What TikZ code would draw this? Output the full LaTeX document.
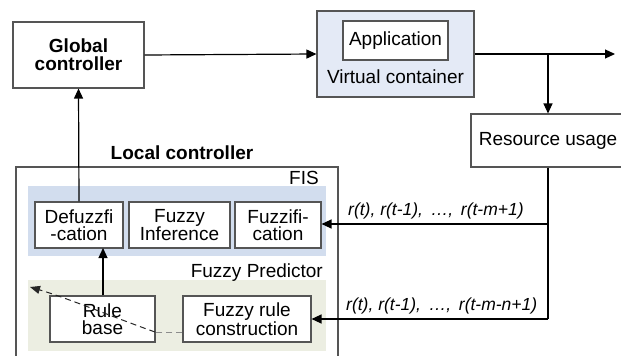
\documentclass[tikz,border=0pt]{standalone}
\usepackage{fontspec}
\setmainfont{Liberation Sans}
\usetikzlibrary{arrows.meta}
\definecolor{vcfill}{HTML}{E4EAF6}
\definecolor{fisfill}{HTML}{D2DDEE}
\definecolor{fpfill}{HTML}{ECEEE2}
\definecolor{bord}{HTML}{555555}
\begin{document}
\begin{tikzpicture}[x=1pt,y=-1pt,
  every node/.style={font=\fontsize{19}{17.5}\selectfont, inner sep=0pt, align=center},
  box/.style={draw=bord, line width=1.1pt, fill=white},
  conn/.style={line width=1.2pt, draw=black, -{Triangle[length=10pt,width=9pt]}},
  plain/.style={line width=1.2pt, draw=black},
  fbdash/.style={line width=1pt, dash pattern=on 6pt off 4pt},
  lbl/.style={font=\fontsize{17.5}{19}\selectfont\itshape}]
\useasboundingbox (0,0) rectangle (621,356);
\begin{scope}
\clip (0,0) rectangle (621,356);
% local controller frame
\draw[draw=bord, line width=1.1pt] (16,167) rectangle (338,370);
% resource usage (cut at the right edge)
\node[box, minimum width=154pt, minimum height=53pt] (ru) at (548,140.5) {};
\end{scope}
\node at (548,140.5) {Resource usage};
% global controller
\node[box, minimum width=131pt, minimum height=66pt, font=\fontsize{19}{18}\selectfont\bfseries] (gc) at (78.5,55) {Global\\controller};
% virtual container
\node[box, fill=vcfill, minimum width=157pt, minimum height=86pt] (vc) at (395.5,54) {};
\node[box, minimum width=105pt, minimum height=39pt] (app) at (395.5,40.5) {Application};
\node (vct) at (395.5,77) {Virtual container};
% local controller label
\node[font=\fontsize{19}{18}\selectfont\bfseries] (lct) at (182,153) {Local controller};
% FIS
\fill[fisfill] (28,186) rectangle (326,256);
\node[anchor=east] (fist) at (319,178) {FIS};
\node[box, minimum width=88pt, minimum height=46pt] (dfz) at (79,225) {Defuzzfi\\-cation};
\node[box, minimum width=101pt, minimum height=46pt] (inf) at (179.5,225) {Fuzzy\\Inference};
\node[box, minimum width=86pt, minimum height=46pt] (fzz) at (278,225) {Fuzzifi-\\cation};
% Fuzzy predictor
\fill[fpfill] (28,280) rectangle (326,351);
\node[anchor=east] (fpt) at (323,273) {Fuzzy Predictor};
\node[box, minimum width=105pt, minimum height=46pt] (rb) at (102.5,319) {Rule\\base};
\node[box, minimum width=128pt, minimum height=46pt] (frc) at (247,319) {Fuzzy rule\\construction};
% connectors
\draw[conn] (gc.east) -- (vc.west);
\coordinate (outR) at (615,54);
\coordinate (br) at (548,54);
\draw[conn] (vc.east) -- (outR);
\draw[conn] (br) -- (ru.north);
\coordinate (c1) at (548,224);
\coordinate (c2) at (548,319);
\draw[plain] (ru.south) -- (c2);
\draw[conn] (c1) -- (fzz.east |- c1);
\draw[conn] (c2) -- (frc.east);
\draw[conn] (rb.north -| 103,0) -- (103,248);
\draw[conn] (dfz.north) -- (gc.south);
% dashed feedback
\coordinate (d1) at (155,332);
\coordinate (d2) at (30,287);
\draw[fbdash, draw=black!45] (frc.west |- d1) -- (d1);
\draw[fbdash, draw=black!85, -{Triangle[length=10pt,width=8pt]}]
  (d1) .. controls (110,316) and (70,299) .. (d2);
% labels
\node[lbl, anchor=west] (l1) at (348,211) {r(t), r(t-1), \,…, \,r(t-m+1)};
\node[lbl, anchor=west] (l2) at (346,306) {r(t), r(t-1), \,…, \,r(t-m-n+1)};
\end{tikzpicture}
\end{document}
